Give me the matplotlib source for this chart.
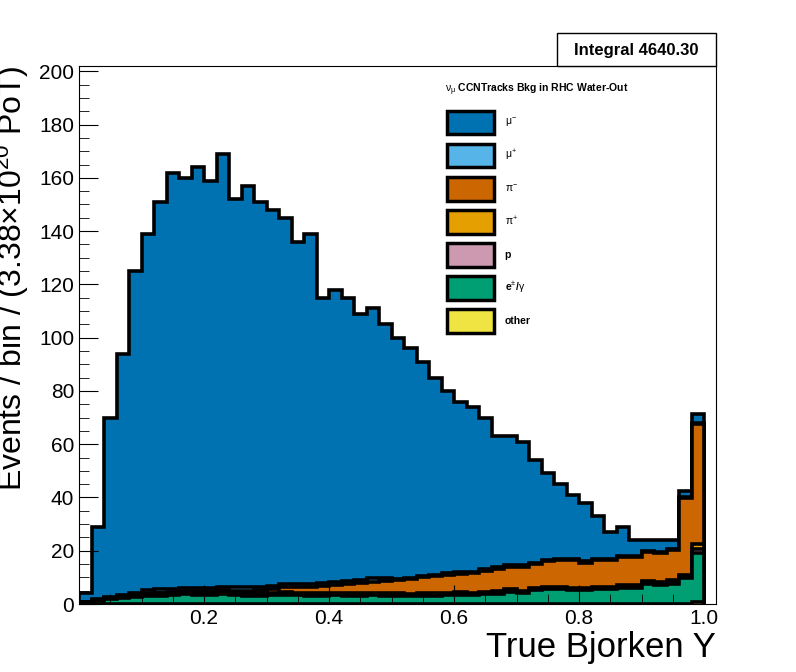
import numpy as np
import matplotlib
matplotlib.use("Agg")
import matplotlib.pyplot as plt
from matplotlib.patches import Rectangle
from matplotlib.ticker import MultipleLocator

plt.rcParams['font.family'] = ['Liberation Sans', 'DejaVu Sans']
plt.rcParams['mathtext.fontset'] = 'custom'
plt.rcParams['mathtext.rm'] = 'Liberation Sans'
plt.rcParams['mathtext.it'] = 'Liberation Sans'

edges = np.linspace(0, 1, 51)

total = [4, 29, 70, 94, 125, 139, 151, 162, 160, 164,
         159, 169, 152, 157, 151, 148, 145, 136, 139, 115,
         118, 115, 109, 111, 105, 100, 96, 91, 85, 80,
         76, 74, 70, 63, 63, 61, 54, 49, 45, 41,
         38, 33, 27, 29, 24, 24, 24, 24, 42.4, 71.3]
other = [0.1] * 49 + [0.7]
e_gamma = [0.3, 1.2, 1.8, 2.2, 2.5, 2.8, 3.0, 3.2, 3.5, 3.3,
           3.3, 3.5, 3.2, 3.0, 3.0, 3.2, 3.4, 3.3, 3.0, 3.0,
           3.2, 3.0, 3.0, 3.2, 3.0, 3.0, 2.8, 3.0, 3.0, 3.2,
           3.4, 3.2, 3.5, 3.8, 4.5, 4.0, 5.0, 5.5, 5.5, 5.0,
           5.0, 5.5, 5.5, 6.0, 6.0, 7.5, 7.0, 7.5, 9.5, 18.5]
proton = [0.2] * 5 + [0.4] * 40 + [0.5, 0.6, 0.6, 0.7, 1.5]
pi_plus = [0.1] * 5 + [0.5] * 40 + [0.6, 0.6, 0.7, 0.5, 2.0]
pi_minus = [0, 0, 0, 0.1, 0.2, 0.2, 0.3, 0.3, 0.4, 0.5,
            0.6, 0.7, 0.8, 1.0, 1.2, 1.5, 1.8, 2.0, 2.4, 2.8,
            3.0, 3.4, 3.8, 4.2, 4.5, 5.0, 5.5, 6.0, 6.5, 6.8,
            7.0, 7.5, 8.0, 8.5, 8.5, 9.0, 9.0, 9.5, 10.0, 10.5,
            9.5, 10.0, 10.0, 10.5, 10.5, 11.0, 11.0, 11.5, 29.0, 45.0]
mu_plus = [0.1, 0.3, 0.5, 0.8, 1.0] + [1.2] * 20 + [0.5] * 20 + [0.3] * 5
mu_minus = list(np.array(total) - np.array(other) - np.array(e_gamma) - np.array(proton)
                - np.array(pi_plus) - np.array(pi_minus) - np.array(mu_plus))

# bottom to top
comps = [other, e_gamma, proton, pi_plus, pi_minus, mu_plus, mu_minus]
colors = ["#f0e442", "#009e73", "#cc99b0", "#e69f00", "#cc6600", "#56b4e9", "#0072b2"]
labels = ["other", "e$^{\\pm}$/$\\gamma$", "p", "$\\pi^{+}$", "$\\pi^{-}$", "$\\mu^{+}$", "$\\mu^{-}$"]

fig = plt.figure(figsize=(7.96, 6.72), dpi=100)
ax = fig.add_axes([79/796, 68/672, 637/796, 538/672])

cum = np.cumsum(np.array(comps, dtype=float), axis=0)
for i in range(len(comps) - 1, -1, -1):
    ax.stairs(cum[i], edges, baseline=0, fill=True, color=colors[i])
    ax.stairs(cum[i], edges, baseline=0, color="black", lw=2.6)

ax.set_xlim(0, 1.019)
ax.set_ylim(0, 202)
ax.xaxis.set_major_locator(MultipleLocator(0.2))
ax.xaxis.set_minor_locator(MultipleLocator(0.05))
ax.yaxis.set_major_locator(MultipleLocator(20))
ax.yaxis.set_minor_locator(MultipleLocator(5))
ax.set_xticks([0.2, 0.4, 0.6, 0.8, 1.0])
ax.set_xticklabels(["0.2", "0.4", "0.6", "0.8", "1.0"])
ax.tick_params(direction="in", which="both", labelsize=15, top=False, right=False)
ax.tick_params(which="major", length=14)
ax.tick_params(which="minor", length=7)
ax.set_xlabel("True Bjorken Y", fontsize=25, loc="right", labelpad=2)
ax.set_ylabel("Events / bin / (3.38$\\times$10$^{20}$ PoT)", fontsize=23, loc="top", labelpad=6)

# legend
ax.text(0.575, 0.955, "$\\nu_{\\mu}$ CCNTracks Bkg in RHC Water-Out", transform=ax.transAxes,
        fontsize=7.5, fontweight="bold", va="center")
for k, i in enumerate(range(len(comps) - 1, -1, -1)):
    yc = 0.895 - k * 0.0615
    ax.add_patch(Rectangle((0.577, yc - 0.022), 0.075, 0.044, transform=ax.transAxes,
                           facecolor=colors[i], edgecolor="black", lw=2.5, zorder=5))
    ax.text(0.668, yc, labels[i], transform=ax.transAxes, fontsize=7.5, fontweight="bold", va="center")

fig.patches.append(Rectangle((557/796, 606/672), 159/796, 33/672, transform=fig.transFigure,
                             facecolor="white", edgecolor="black", lw=1))
fig.text(636/796, 622/672, "Integral 4640.30", ha="center", va="center", fontsize=12, fontweight="bold")

fig.savefig("out.png", dpi=100)
